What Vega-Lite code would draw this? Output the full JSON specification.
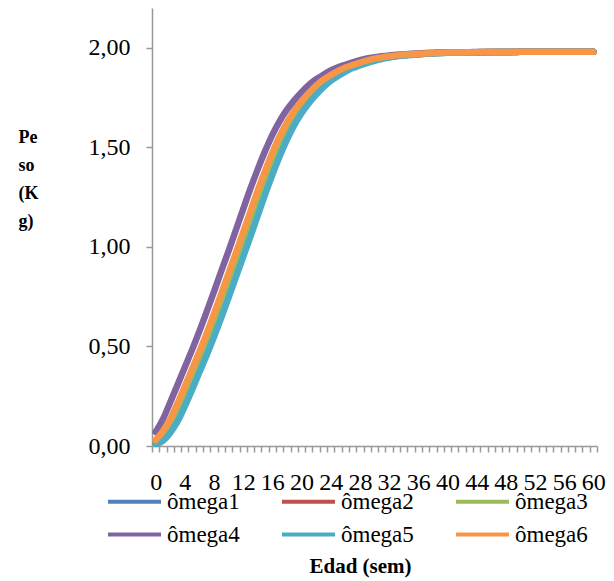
{
  "$schema": "https://vega.github.io/schema/vega-lite/v6.json",
  "autosize": "none",
  "width": 445,
  "height": 438,
  "padding": {"left": 152, "top": 8, "right": 17, "bottom": 135},
  "background": "white",
  "config": {"view": {"stroke": null}, "font": "'Liberation Serif', 'Times New Roman', Times, serif"},
  "data": {"values": [
    {"x":0,"ômega1":0.017,"ômega2":0.021,"ômega3":0.019,"ômega4":0.070,"ômega5":0.010,"ômega6":0.030},
    {"x":1,"ômega1":0.044,"ômega2":0.053,"ômega3":0.048,"ômega4":0.135,"ômega5":0.026,"ômega6":0.075},
    {"x":2,"ômega1":0.093,"ômega2":0.105,"ômega3":0.099,"ômega4":0.220,"ômega5":0.066,"ômega6":0.135},
    {"x":3,"ômega1":0.159,"ômega2":0.175,"ômega3":0.167,"ômega4":0.307,"ômega5":0.123,"ômega6":0.215},
    {"x":4,"ômega1":0.241,"ômega2":0.258,"ômega3":0.249,"ômega4":0.396,"ômega5":0.199,"ômega6":0.300},
    {"x":5,"ômega1":0.326,"ômega2":0.344,"ômega3":0.335,"ômega4":0.484,"ômega5":0.283,"ômega6":0.387},
    {"x":6,"ômega1":0.413,"ômega2":0.431,"ômega3":0.422,"ômega4":0.577,"ômega5":0.370,"ômega6":0.475},
    {"x":7,"ômega1":0.503,"ômega2":0.521,"ômega3":0.512,"ômega4":0.675,"ômega5":0.457,"ômega6":0.567},
    {"x":8,"ômega1":0.596,"ômega2":0.616,"ômega3":0.606,"ômega4":0.775,"ômega5":0.549,"ômega6":0.665},
    {"x":9,"ômega1":0.695,"ômega2":0.715,"ômega3":0.705,"ômega4":0.879,"ômega5":0.645,"ômega6":0.765},
    {"x":10,"ômega1":0.796,"ômega2":0.817,"ômega3":0.807,"ômega4":0.980,"ômega5":0.745,"ômega6":0.869},
    {"x":11,"ômega1":0.899,"ômega2":0.920,"ômega3":0.909,"ômega4":1.085,"ômega5":0.848,"ômega6":0.970},
    {"x":12,"ômega1":1.001,"ômega2":1.022,"ômega3":1.012,"ômega4":1.190,"ômega5":0.950,"ômega6":1.074},
    {"x":13,"ômega1":1.106,"ômega2":1.127,"ômega3":1.116,"ômega4":1.294,"ômega5":1.053,"ômega6":1.179},
    {"x":14,"ômega1":1.211,"ômega2":1.232,"ômega3":1.221,"ômega4":1.391,"ômega5":1.158,"ômega6":1.284},
    {"x":15,"ômega1":1.313,"ômega2":1.333,"ômega3":1.323,"ômega4":1.481,"ômega5":1.263,"ômega6":1.382},
    {"x":16,"ômega1":1.409,"ômega2":1.428,"ômega3":1.418,"ômega4":1.563,"ômega5":1.362,"ômega6":1.473},
    {"x":17,"ômega1":1.498,"ômega2":1.515,"ômega3":1.506,"ômega4":1.632,"ômega5":1.455,"ômega6":1.556},
    {"x":18,"ômega1":1.577,"ômega2":1.591,"ômega3":1.584,"ômega4":1.689,"ômega5":1.539,"ômega6":1.626},
    {"x":19,"ômega1":1.643,"ômega2":1.655,"ômega3":1.649,"ômega4":1.736,"ômega5":1.612,"ômega6":1.684},
    {"x":20,"ômega1":1.698,"ômega2":1.708,"ômega3":1.703,"ômega4":1.777,"ômega5":1.672,"ômega6":1.732},
    {"x":21,"ômega1":1.744,"ômega2":1.753,"ômega3":1.748,"ômega4":1.813,"ômega5":1.722,"ômega6":1.773},
    {"x":22,"ômega1":1.784,"ômega2":1.792,"ômega3":1.788,"ômega4":1.842,"ômega5":1.765,"ômega6":1.810},
    {"x":23,"ômega1":1.819,"ômega2":1.825,"ômega3":1.822,"ômega4":1.865,"ômega5":1.803,"ômega6":1.840},
    {"x":24,"ômega1":1.847,"ômega2":1.852,"ômega3":1.849,"ômega4":1.886,"ômega5":1.834,"ômega6":1.863},
    {"x":25,"ômega1":1.869,"ômega2":1.874,"ômega3":1.871,"ômega4":1.902,"ômega5":1.858,"ômega6":1.884},
    {"x":26,"ômega1":1.889,"ômega2":1.893,"ômega3":1.891,"ômega4":1.915,"ômega5":1.880,"ômega6":1.901},
    {"x":27,"ômega1":1.905,"ômega2":1.908,"ômega3":1.906,"ômega4":1.927,"ômega5":1.898,"ômega6":1.914},
    {"x":28,"ômega1":1.918,"ômega2":1.920,"ômega3":1.919,"ômega4":1.938,"ômega5":1.911,"ômega6":1.926},
    {"x":29,"ômega1":1.929,"ômega2":1.932,"ômega3":1.930,"ômega4":1.947,"ômega5":1.924,"ômega6":1.937},
    {"x":30,"ômega1":1.940,"ômega2":1.942,"ômega3":1.941,"ômega4":1.953,"ômega5":1.935,"ômega6":1.946},
    {"x":31,"ômega1":1.948,"ômega2":1.949,"ômega3":1.948,"ômega4":1.958,"ômega5":1.944,"ômega6":1.952},
    {"x":32,"ômega1":1.954,"ômega2":1.955,"ômega3":1.954,"ômega4":1.962,"ômega5":1.951,"ômega6":1.958},
    {"x":33,"ômega1":1.959,"ômega2":1.960,"ômega3":1.960,"ômega4":1.965,"ômega5":1.957,"ômega6":1.962},
    {"x":34,"ômega1":1.963,"ômega2":1.964,"ômega3":1.963,"ômega4":1.968,"ômega5":1.961,"ômega6":1.965},
    {"x":35,"ômega1":1.966,"ômega2":1.967,"ômega3":1.966,"ômega4":1.970,"ômega5":1.964,"ômega6":1.968},
    {"x":36,"ômega1":1.969,"ômega2":1.969,"ômega3":1.969,"ômega4":1.972,"ômega5":1.967,"ômega6":1.970},
    {"x":37,"ômega1":1.971,"ômega2":1.971,"ômega3":1.971,"ômega4":1.974,"ômega5":1.970,"ômega6":1.972},
    {"x":38,"ômega1":1.973,"ômega2":1.973,"ômega3":1.973,"ômega4":1.975,"ômega5":1.972,"ômega6":1.974},
    {"x":39,"ômega1":1.974,"ômega2":1.975,"ômega3":1.974,"ômega4":1.976,"ômega5":1.974,"ômega6":1.975},
    {"x":40,"ômega1":1.975,"ômega2":1.976,"ômega3":1.975,"ômega4":1.977,"ômega5":1.975,"ômega6":1.976},
    {"x":41,"ômega1":1.976,"ômega2":1.977,"ômega3":1.976,"ômega4":1.977,"ômega5":1.976,"ômega6":1.977},
    {"x":42,"ômega1":1.977,"ômega2":1.977,"ômega3":1.977,"ômega4":1.978,"ômega5":1.976,"ômega6":1.977},
    {"x":43,"ômega1":1.977,"ômega2":1.978,"ômega3":1.977,"ômega4":1.978,"ômega5":1.977,"ômega6":1.978},
    {"x":44,"ômega1":1.978,"ômega2":1.978,"ômega3":1.978,"ômega4":1.979,"ômega5":1.977,"ômega6":1.978},
    {"x":45,"ômega1":1.978,"ômega2":1.979,"ômega3":1.978,"ômega4":1.979,"ômega5":1.978,"ômega6":1.979},
    {"x":46,"ômega1":1.979,"ômega2":1.979,"ômega3":1.979,"ômega4":1.979,"ômega5":1.978,"ômega6":1.979},
    {"x":47,"ômega1":1.979,"ômega2":1.979,"ômega3":1.979,"ômega4":1.979,"ômega5":1.979,"ômega6":1.979},
    {"x":48,"ômega1":1.979,"ômega2":1.979,"ômega3":1.979,"ômega4":1.979,"ômega5":1.979,"ômega6":1.979},
    {"x":49,"ômega1":1.979,"ômega2":1.979,"ômega3":1.979,"ômega4":1.980,"ômega5":1.979,"ômega6":1.980},
    {"x":50,"ômega1":1.980,"ômega2":1.980,"ômega3":1.980,"ômega4":1.980,"ômega5":1.980,"ômega6":1.980},
    {"x":51,"ômega1":1.980,"ômega2":1.980,"ômega3":1.980,"ômega4":1.980,"ômega5":1.980,"ômega6":1.980},
    {"x":52,"ômega1":1.980,"ômega2":1.980,"ômega3":1.980,"ômega4":1.980,"ômega5":1.980,"ômega6":1.980},
    {"x":53,"ômega1":1.980,"ômega2":1.980,"ômega3":1.980,"ômega4":1.980,"ômega5":1.980,"ômega6":1.980},
    {"x":54,"ômega1":1.980,"ômega2":1.980,"ômega3":1.980,"ômega4":1.980,"ômega5":1.980,"ômega6":1.980},
    {"x":55,"ômega1":1.980,"ômega2":1.980,"ômega3":1.980,"ômega4":1.980,"ômega5":1.980,"ômega6":1.980},
    {"x":56,"ômega1":1.980,"ômega2":1.980,"ômega3":1.980,"ômega4":1.980,"ômega5":1.980,"ômega6":1.980},
    {"x":57,"ômega1":1.980,"ômega2":1.980,"ômega3":1.980,"ômega4":1.980,"ômega5":1.980,"ômega6":1.980},
    {"x":58,"ômega1":1.980,"ômega2":1.980,"ômega3":1.980,"ômega4":1.980,"ômega5":1.980,"ômega6":1.980},
    {"x":59,"ômega1":1.980,"ômega2":1.980,"ômega3":1.980,"ômega4":1.980,"ômega5":1.980,"ômega6":1.980},
    {"x":60,"ômega1":1.980,"ômega2":1.980,"ômega3":1.980,"ômega4":1.980,"ômega5":1.980,"ômega6":1.980}
  ]},
  "transform": [
    {"fold": ["ômega1","ômega2","ômega3","ômega4","ômega5","ômega6"], "as": ["serie","peso"]}
  ],
  "mark": {"type": "line", "strokeWidth": 6.5, "strokeCap": "round", "strokeJoin": "round", "interpolate": "monotone"},
  "encoding": {
    "x": {
      "field": "x", "type": "ordinal",
      "scale": {"type": "band", "paddingInner": 0, "paddingOuter": 0},
      "axis": {
        "title": "Edad (sem)",
        "titleFont": "'Liberation Serif', 'Times New Roman', Times, serif", "titleFontSize": 21, "titleFontWeight": "bold", "titleColor": "black",
        "titleAnchor": "start", "titleAlign": "center", "titleX": 208, "titleY": 126, "titleBaseline": "alphabetic",
        "labelAngle": 0, "labelFont": "'Liberation Serif', 'Times New Roman', Times, serif", "labelFontSize": 24, "labelColor": "black",
        "labelExpr": "datum.value % 4 == 0 ? datum.label : ''",
        "labelOverlap": false, "labelBound": false, "labelFlush": false,
        "labelPadding": 18, "labelBaseline": "top",
        "tickBand": "extent", "tickSize": 6, "tickColor": "#999999", "tickWidth": 1.5,
        "domainColor": "#999999", "domainWidth": 1.5, "grid": false
      }
    },
    "y": {
      "field": "peso", "type": "quantitative",
      "scale": {"domain": [0, 2.2], "nice": false},
      "axis": {
        "values": [0, 0.5, 1, 1.5, 2],
        "labelExpr": "replace(format(datum.value, '.2f'), '.', ',')",
        "labelFont": "'Liberation Serif', 'Times New Roman', Times, serif", "labelFontSize": 24, "labelColor": "black", "labelPadding": 16,
        "tickSize": 6, "tickColor": "#999999", "tickWidth": 1.5,
        "domainColor": "#999999", "domainWidth": 1.5, "grid": false,
        "title": ["Pe", "so", "(K", "g)"],
        "titleAngle": 0, "titleFont": "'Liberation Serif', 'Times New Roman', Times, serif", "titleFontSize": 18, "titleFontWeight": "bold", "titleColor": "black",
        "titleLineHeight": 28, "titleAlign": "left", "titleBaseline": "alphabetic",
        "titleAnchor": "start", "titleX": -134, "titleY": 134
      }
    },
    "color": {
      "field": "serie", "type": "nominal",
      "scale": {
        "domain": ["ômega1","ômega2","ômega3","ômega4","ômega5","ômega6"],
        "range": ["#4F81BD","#C0504D","#9BBB59","#8064A2","#4BACC6","#F79646"]
      },
      "legend": {
        "title": null, "orient": "none", "legendX": -46, "legendY": 482,
        "direction": "horizontal", "columns": 3, "columnPadding": 40, "rowPadding": 9,
        "clipHeight": 23,
        "symbolType": "stroke", "symbolSize": 2809, "symbolStrokeWidth": 4,
        "labelFont": "'Liberation Serif', 'Times New Roman', Times, serif", "labelFontSize": 23, "labelColor": "black", "labelOffset": 4,
        "padding": 0
      }
    }
  }
}
